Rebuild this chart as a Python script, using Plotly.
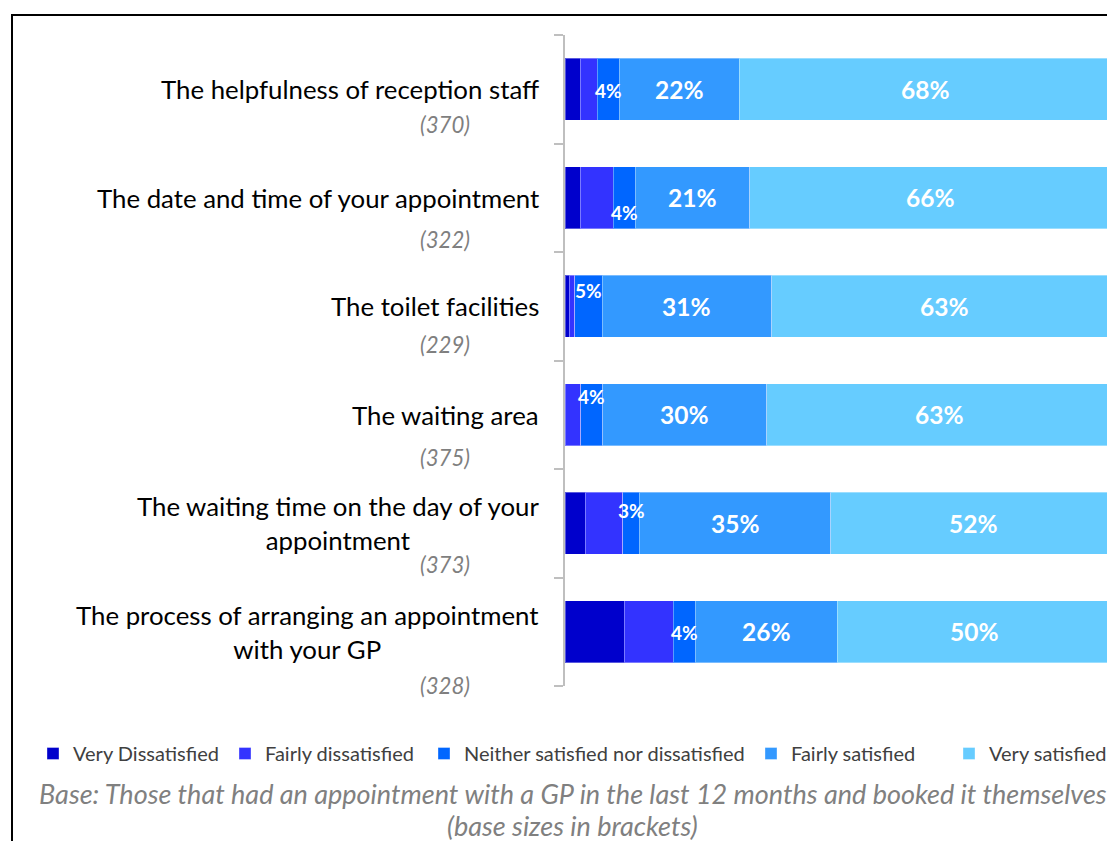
import plotly.graph_objects as go

# Survey items (top to bottom) and their base sizes
categories = [
    "The helpfulness of reception staff",
    "The date and time of your appointment",
    "The toilet facilities",
    "The waiting area",
    "The waiting time on the day of your<br>appointment",
    "The process of arranging an appointment<br>with your GP",
]
base_sizes = ["(370)", "(322)", "(229)", "(375)", "(373)", "(328)"]

# Percentages for each response
very_dissatisfied = [2.8, 2.8, 0.8, 0.0, 3.7, 10.8]
fairly_dissatisfied = [3.1, 6.0, 1.0, 2.9, 6.9, 9.0]
neither = [4, 4, 5, 4, 3, 4]
fairly_satisfied = [22, 21, 31, 30, 35, 26]
very_satisfied = [68, 66, 63, 63, 52, 50]

series_names = [
    "Very Dissatisfied",
    "Fairly dissatisfied",
    "Neither satisfied nor dissatisfied",
    "Fairly satisfied",
    "Very satisfied",
]
series_values = [very_dissatisfied, fairly_dissatisfied, neither, fairly_satisfied, very_satisfied]
series_colors = ["#0000CC", "#3333FF", "#0066FF", "#3399FF", "#66CCFF"]
labelled_series = [2, 3, 4]  # segments that carry a value label

# layout tweaks: legend entry widths (px), label nudges (px)
legend_widths = [147, 154, 282, 153, 113]
small_label_shift = [-1, -15, 16, 18, 13, -1]
base_label_drop = [35, 42, 38, 43, 41, 54]

FONT = "Lato"
ys = list(range(len(categories)))

fig = go.Figure()
for name, vals, col, lw in zip(series_names, series_values, series_colors, legend_widths):
    fig.add_trace(go.Bar(
        y=ys, x=vals, name=name, orientation="h",
        marker=dict(color=col, line=dict(color="rgba(255,255,255,0.35)", width=1)),
        legendwidth=lw,
        hoverinfo="x+name",
    ))

annotations = []
# value labels centred in their segments
for si in labelled_series:
    for ri in ys:
        start = sum(series_values[k][ri] for k in range(si))
        v = series_values[si][ri]
        small = si == 2
        annotations.append(dict(
            x=start + v / 2, y=ri, xref="x", yref="y",
            text=f"<b>{v:.0f}%</b>", showarrow=False,
            yshift=small_label_shift[ri] if small else 0,
            font=dict(family=FONT, size=19 if small else 24.5, color="white"),
        ))

# category labels and base sizes to the left of the axis
for ri, (cat, base) in enumerate(zip(categories, base_sizes)):
    annotations.append(dict(
        x=0, y=ri, xref="paper", yref="y", xanchor="right", yanchor="middle", xshift=-24,
        text=cat, align="center", showarrow=False,
        font=dict(family=FONT, size=25.8, color="#000000"),
    ))
    annotations.append(dict(
        x=0, y=ri, xref="paper", yref="y", xanchor="center", yanchor="middle", xshift=-120,
        yshift=-base_label_drop[ri],
        text=f"<i>{base}</i>", showarrow=False,
        font=dict(family=FONT, size=22.2, color="#7F7F7F"),
    ))

# footnote
annotations.append(dict(
    x=0, y=0, xref="paper", yref="paper", xanchor="center", yanchor="middle",
    xshift=7.5, yshift=-107,
    text="<i>Base: Those that had an appointment with a GP in the last 12 months and booked it themselves</i>",
    showarrow=False, font=dict(family=FONT, size=27, color="#808080"),
))
annotations.append(dict(
    x=0, y=0, xref="paper", yref="paper", xanchor="center", yanchor="middle",
    xshift=7.5, yshift=-139,
    text="<i>(base sizes in brackets)</i>",
    showarrow=False, font=dict(family=FONT, size=27, color="#808080"),
))

fig.update_layout(
    width=1107, height=841,
    margin=dict(l=565, r=0, t=35, b=155),
    barmode="stack", bargap=0.43,
    plot_bgcolor="white", paper_bgcolor="white",
    showlegend=True,
    legend=dict(
        orientation="h", x=(38 - 565) / 542, xanchor="left",
        y=(686 - 753.5) / 651, yanchor="middle",
        font=dict(family=FONT, size=20, color="#404040"),
        itemwidth=30, traceorder="normal",
    ),
    xaxis=dict(range=[0, 99.1], visible=False, fixedrange=True),
    yaxis=dict(
        type="linear", range=[5.5, -0.5], showticklabels=False,
        showline=True, linecolor="#BFBFBF", linewidth=1.5,
        ticks="outside", ticklen=9, tickcolor="#BFBFBF", tickwidth=1.5,
        tickvals=[-0.5, 0.5, 1.5, 2.5, 3.5, 4.5, 5.5],
        showgrid=False, zeroline=False, fixedrange=True,
    ),
    annotations=annotations,
    shapes=[dict(
        type="rect", xref="paper", yref="paper",
        x0=(12 - 565) / 542, x1=1.2, y0=-0.4, y1=(686 - 15) / 651,
        line=dict(color="black", width=2), fillcolor="rgba(0,0,0,0)", layer="below",
    )],
)

fig.write_html("out.html")
